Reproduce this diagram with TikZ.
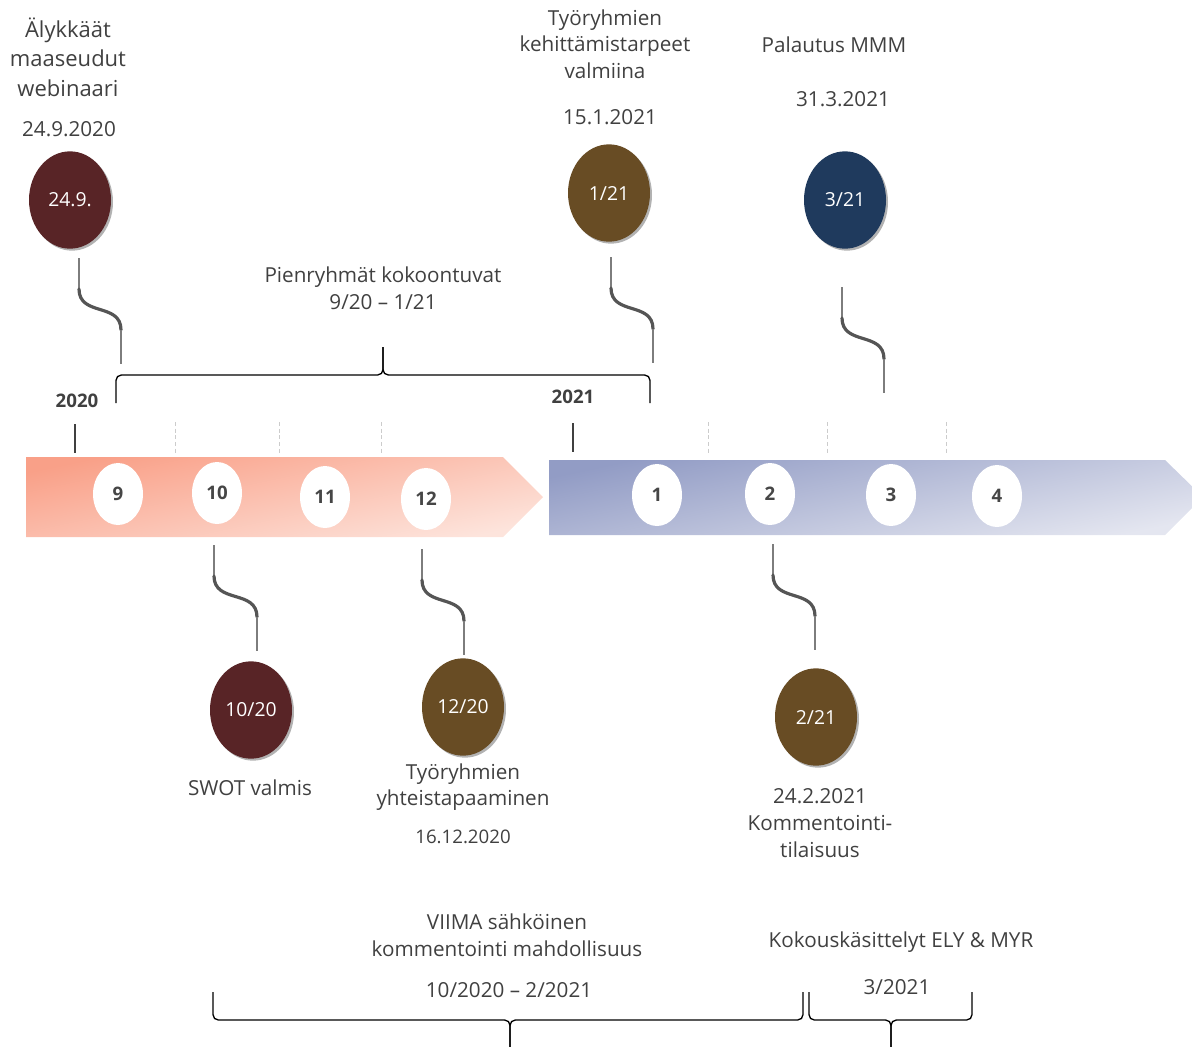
\documentclass[tikz,border=0pt]{standalone}
\usepackage{fontspec}
\setmainfont{Open Sans}
\usetikzlibrary{shapes.geometric,shadows}

\definecolor{txtgray}{RGB}{64,64,64}
\definecolor{numgray}{RGB}{70,70,70}
\definecolor{evmaroon}{RGB}{88,36,38}
\definecolor{evbrown}{RGB}{104,76,36}
\definecolor{evnavy}{RGB}{31,58,93}
\definecolor{salmonA}{RGB}{249,160,136}
\definecolor{salmonB}{RGB}{253,228,220}
\definecolor{blueA}{RGB}{146,156,197}
\definecolor{blueB}{RGB}{228,230,240}
\definecolor{leadgray}{RGB}{125,125,125}
\definecolor{bendgray}{RGB}{85,85,85}

\begin{document}
\begin{tikzpicture}[x=0.75pt,y=-0.75pt,
                    every node/.style={font=\fontsize{15.5}{20}\selectfont,text=txtgray}]
  \tikzstyle{monthball}=[ellipse,fill=white,minimum width=37.5pt,minimum height=46.5pt,
                         inner sep=0pt,text=numgray,font=\bfseries\fontsize{14}{16}\selectfont]
  \tikzstyle{eventball}=[ellipse,minimum width=61.5pt,minimum height=73pt,inner sep=0pt,
                         text=white,font=\fontsize{14.5}{16}\selectfont,
                         drop shadow={shadow xshift=1.5pt,shadow yshift=-1.5pt,opacity=0.3,fill=black}]
  \tikzstyle{yearlabel}=[font=\bfseries\fontsize{14}{16}\selectfont]
  \tikzstyle{yeartick}=[draw=txtgray,line width=2.2pt]
  \tikzstyle{monthtick}=[draw=black!20,line width=0.5pt,dash pattern=on 3pt off 2pt]
  \tikzstyle{leadline}=[draw=leadgray,line width=0.8pt]
  \tikzstyle{leadbend}=[draw=bendgray,line width=2.4pt,line cap=round]
  \tikzstyle{spanbrace}=[draw=black,line width=1pt,rounded corners=4pt]

  \useasboundingbox (0,0) rectangle (1192,1046);

  % timeline arrows
  \shade[top color=salmonA,bottom color=salmonB,shading angle=12]
    (26,457) -- (503,457) -- (543,497) -- (503,537) -- (26,537) -- cycle;
  \shade[top color=blueA,bottom color=blueB,shading angle=12]
    (549,460) -- (1165,460) -- (1203,497) -- (1165,535) -- (549,535) -- cycle;

  % years and month ticks
  \node[yearlabel] (y2020) at (77,401) {2020};
  \node[yearlabel] (y2021) at (573,397) {2021};
  \draw[yeartick] (75,424) -- (75,453);
  \draw[yeartick] (573,423) -- (573,452);
  \foreach \x in {175,279,381,708,827,946}
    \draw[monthtick] (\x,422) -- (\x,453);

  \foreach \x/\y/\m in {118/494/9, 217/493/10, 325/497/11, 426/499/12,
                        657/495/1, 770/494/2, 891/495/3, 997/496/4}
    \node[monthball] (m\m) at (\x,\y) {\m};

  % events
  \node[eventball,fill=evmaroon] (e249)  at (70,200)  {24.9.};
  \node[eventball,fill=evbrown]  (e121)  at (609,193) {1/21};
  \node[eventball,fill=evnavy]   (e321)  at (845,200) {3/21};
  \node[eventball,fill=evmaroon] (e1020) at (251,710) {10/20};
  \node[eventball,fill=evbrown]  (e1220) at (463,707) {12/20};
  \node[eventball,fill=evbrown]  (e221)  at (816,717) {2/21};

  % leads
  \foreach \xa/\ya/\xb in {79/258/121, 611/257/653, 842/287/884,
                           214/545/257, 422/549/464, 773/544/815}
  {
    \coordinate (ltop)  at (\xa,\ya);
    \coordinate (lbend) at (\xa,\ya+31);
    \coordinate (lknee) at (\xb,\ya+72);
    \coordinate (lfoot) at (\xb,\ya+106);
    \draw[leadline] (ltop) -- (lbend);
    \draw[leadbend] (lbend) .. controls +(0,28) and +(0,-28) .. (lknee);
    \draw[leadline] (lknee) -- (lfoot);
  }

  % texts
  \node[align=center,font=\fontsize{16.5}{22}\selectfont] (webinar) at (68,57)
    {Älykkäät\\maaseudut\\webinaari};
  \node (webdate) at (69,129) {24.9.2020};
  \node[align=center] (needs) at (605,44) {Työryhmien\\kehittämistarpeet\\valmiina};
  \node (needsdate) at (610,117) {15.1.2021};
  \node (back) at (834,45) {Palautus MMM};
  \node (backdate) at (843,99) {31.3.2021};
  \node[align=center] (groups) at (383,288) {Pienryhmät kokoontuvat\\9/20 – 1/21};
  \node (swot) at (250,788) {SWOT valmis};
  \node[align=center] (meet) at (463,787) {Työryhmien\\yhteistapaaminen};
  \node[font=\fontsize{14}{16}\selectfont] (meetdate) at (463,837) {16.12.2020};
  \node[align=center] (comment) at (820,823) {24.2.2021\\Kommentointi-\\tilaisuus};
  \node[align=center] (viima) at (507,935) {VIIMA sähköinen\\kommentointi mahdollisuus};
  \node (viimadate) at (509,990) {10/2020 – 2/2021};
  \node (ely) at (901,942) {Kokouskäsittelyt ELY \& MYR};
  \node (elydate) at (897,987) {3/2021};

  % braces
  \coordinate (gL) at (116,403);
  \coordinate (gM) at (383,375);
  \coordinate (gT) at (383,347);
  \coordinate (gR) at (650,403);
  \coordinate (vL) at (213,992);
  \coordinate (vM) at (510,1020);
  \coordinate (vT) at (510,1050);
  \coordinate (vR) at (803,992);
  \coordinate (kL) at (809,992);
  \coordinate (kM) at (891,1020);
  \coordinate (kT) at (891,1050);
  \coordinate (kR) at (972,992);
  \draw[spanbrace] (gL) |- (gM) -- (gT);
  \draw[spanbrace] (gR) |- (gM) -- (gT);
  \draw[spanbrace] (vL) |- (vM) -- (vT);
  \draw[spanbrace] (vR) |- (vM) -- (vT);
  \draw[spanbrace] (kL) |- (kM) -- (kT);
  \draw[spanbrace] (kR) |- (kM) -- (kT);
\end{tikzpicture}
\end{document}
